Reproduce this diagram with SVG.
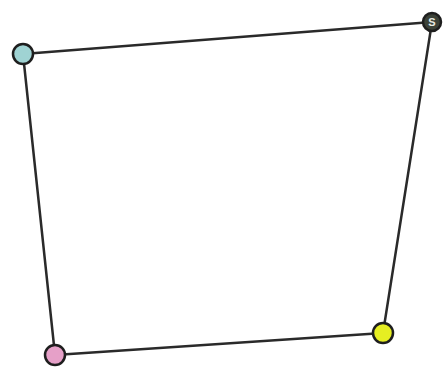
<svg xmlns="http://www.w3.org/2000/svg" width="447" height="373" viewBox="0 0 447 373">
<style>
.edge{stroke:#2a2a2a;stroke-width:2.5;fill:none;stroke-linecap:round}
.node{stroke:#1e1e1e;stroke-width:2.5}
.lbl{font-family:"Liberation Sans",Arial,sans-serif;font-size:11px;font-weight:bold;fill:#e8ece4;text-anchor:middle}
</style>
<rect width="447" height="373" fill="#ffffff"/>
<g id="connectors">
<line class="edge" x1="23" y1="54" x2="432" y2="22"/>
<line class="edge" x1="23" y1="54" x2="55" y2="355"/>
<line class="edge" x1="55" y1="355" x2="383" y2="333"/>
<line class="edge" x1="383" y1="333" x2="432" y2="22"/>
</g>
<g id="node-teal"><circle class="node" cx="23" cy="54" r="10" fill="#9fd3d3"/></g>
<g id="node-dark"><circle class="node" cx="432" cy="22" r="9" fill="#3c4238"/><text class="lbl" x="432" y="26">S</text></g>
<g id="node-pink"><circle class="node" cx="55" cy="355" r="10" fill="#e6a0c8"/></g>
<g id="node-yellow"><circle class="node" cx="383" cy="333" r="10" fill="#e6ee22"/></g>
</svg>
